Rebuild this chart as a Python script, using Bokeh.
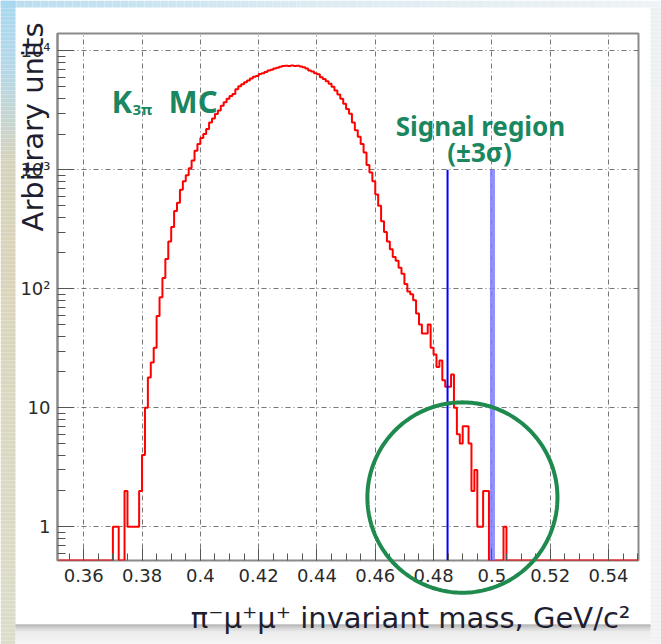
import numpy as np
from bokeh.plotting import figure
from bokeh.models import Range1d, FixedTicker, Label, GridBox, LogScale
from bokeh.embed import file_html
from bokeh.resources import INLINE

# K3pi Monte Carlo reconstructed as pi- mu+ mu+ : entries per 1 MeV bin, first bin starts at 0.370 GeV
hist_start = 0.350
hist_bins = 200
bin_width = 0.001
first_filled_edge = 0.370
counts = [
    1, 1, 0, 0, 2, 1, 1, 1, 1, 2,                                   # 0.370
    4, 10, 18, 24, 32, 59, 85, 123, 178, 250,                       # 0.380
    330, 450, 530, 680, 800, 900, 1030, 1200, 1450, 1650,           # 0.390
    1850, 2000, 2200, 2500, 2700, 2950, 3150, 3450, 3700, 3950,     # 0.400
    4180, 4350, 4750, 5050, 5250, 5450, 5650, 5850, 6050, 6150,     # 0.410
    6400, 6500, 6650, 6850, 6950, 7100, 7200, 7350, 7450, 7500,     # 0.420
    7480, 7520, 7450, 7500, 7400, 7300, 7100, 6850, 6700, 6500,     # 0.430
    6350, 6000, 5800, 5550, 5300, 5000, 4650, 4300, 3950, 3600,     # 0.440
    3250, 2960, 2500, 2150, 1900, 1650, 1400, 1100, 950, 800,       # 0.450
    620, 500, 370, 300, 250, 215, 185, 172, 150, 134,               # 0.460
    110, 95, 90, 80, 62, 50, 42, 42, 50, 32,                        # 0.470
    28, 22, 25, 17, 15, 15, 19, 10, 6, 5,                           # 0.480
    7, 7, 5, 2, 3, 1, 1, 2, 2, 0,                                   # 0.490
    0, 0, 0, 0, 1,                                                  # 0.500
]

x_tick_values = [0.36, 0.38, 0.40, 0.42, 0.44, 0.46, 0.48, 0.50, 0.52, 0.54]
x_tick_labels = ["0.36", "0.38", "0.4", "0.42", "0.44", "0.46", "0.48", "0.5", "0.52", "0.54"]
y_tick_values = [1, 10, 100, 1000, 10000]
y_tick_labels = ["1", "10", "10²", "10³", "10⁴"]

x_title = "π⁻μ⁺μ⁺ invariant mass, GeV/c²"
y_title = "Arbitrary units"

# +-3 sigma signal window and the height of its markers
signal_edges = [0.4848, 0.5002]
signal_marker_top = 1000

# highlighted area around the signal window: centre, half-width in GeV, half-height in decades
ring_centre = (0.4899, 1.76)
ring_half_width = 0.0326
ring_half_decades = 0.80

x_lo, x_hi = 0.351, 0.5503
y_lo, y_hi = 0.52, 14000

# page and frame geometry (pixels)
PAGE_W, PAGE_H = 661, 644
FRAME_L, FRAME_T, FRAME_W, FRAME_H = 57, 33, 581, 527

GREEN_TEXT = "#1b8760"
GREEN_RING = "#1f8a4e"
AXIS_GREY = "#8a8a8a"
TEXT_DARK = "#1e1e30"

p = figure(
    width=PAGE_W, height=PAGE_H,
    x_range=Range1d(x_lo, x_hi), y_range=Range1d(y_lo, y_hi),
    y_axis_type="log",
    output_backend="svg", toolbar_location=None,
    min_border_left=FRAME_L, min_border_right=PAGE_W - FRAME_L - FRAME_W,
    min_border_top=FRAME_T, min_border_bottom=PAGE_H - FRAME_T - FRAME_H,
    background_fill_color="white", border_fill_color="white",
    outline_line_color=AXIS_GREY, outline_line_width=2,
    frame_align=False,
)

# axes in the ROOT style: ticks pointing into the frame
p.xaxis.ticker = FixedTicker(ticks=x_tick_values,
                             minor_ticks=list(np.round(np.arange(0.350, 0.5501, 0.005), 3)))
p.xaxis.major_label_overrides = dict(zip(x_tick_values, x_tick_labels))
minor_y = [k * 10.0 ** d for d in range(-1, 5) for k in range(2, 10)]
p.yaxis.ticker = FixedTicker(ticks=y_tick_values, minor_ticks=minor_y)
p.yaxis.major_label_overrides = dict(zip(y_tick_values, y_tick_labels))

for ax in (p.xaxis, p.yaxis):
    ax.axis_line_color = AXIS_GREY
    ax.axis_line_width = 2
    ax.major_tick_line_color = "#555555"
    ax.minor_tick_line_color = "#555555"
    ax.major_tick_out = 0
    ax.minor_tick_out = 0
    ax.major_label_text_font = "DejaVu Sans"
    ax.major_label_text_font_size = "18px"
    ax.major_label_text_color = "#2a2a2a"
# the frame outline already closes the bottom edge; empty bins are drawn along it
p.xaxis.axis_line_color = None
p.xaxis.major_tick_in = 12
p.xaxis.minor_tick_in = 7
p.yaxis.major_tick_in = 16
p.yaxis.minor_tick_in = 8
p.xaxis.major_label_standoff = 8
p.yaxis.major_label_standoff = 7

for g in (p.xgrid, p.ygrid):
    g.grid_line_color = "#555555"
    g.grid_line_alpha = 0.8
    g.grid_line_width = 1
    g.grid_line_dash = "5 3 1 3"

# histogram outline; empty bins sit on the bottom edge as ROOT draws them on a log axis
edges = hist_start + bin_width * np.arange(hist_bins + 1)
values = np.zeros(hist_bins)
i0 = int(round((first_filled_edge - hist_start) / bin_width))
values[i0:i0 + len(counts)] = counts
shown = np.where(values > 0, values, y_lo)
p.step(x=edges, y=np.append(shown, shown[-1]), mode="after", line_color="#ff0000", line_width=2)

# signal window markers
p.segment(x0=[signal_edges[0]], y0=[y_lo], x1=[signal_edges[0]], y1=[signal_marker_top],
          line_color="#0000ff", line_width=2)
p.segment(x0=[signal_edges[1]], y0=[y_lo], x1=[signal_edges[1]], y1=[signal_marker_top],
          line_color="#7c7cff", line_width=5, line_alpha=0.85)


def note(fig, text, x, y, size, color, align="left", angle=0.0, style="normal", font="DejaVu Sans"):
    fig.add_layout(Label(x=x, y=y, x_units="canvas", y_units="canvas", text=text,
                         text_font=font, text_font_size=f"{size}px", text_font_style=style,
                         text_color=color, text_align=align, text_baseline="alphabetic", angle=angle))


note(p, "K", 111, 100, 31, GREEN_TEXT, style="bold", font="Noto Sans")
note(p, "3π", 132, 108, 15, GREEN_TEXT, style="bold", font="Noto Sans")
note(p, "MC", 168, 100, 31, GREEN_TEXT, style="bold", font="Noto Sans")
note(p, "Signal region", 480, 125, 26, GREEN_TEXT, align="center", style="bold", font="Noto Sans")
note(p, "(±3σ)", 479, 151, 26, GREEN_TEXT, align="center", style="bold", font="Noto Sans")

# transparent layer over the whole page: slide backdrop, axis titles and the ring,
# none of which is confined to the plotting frame
ov = figure(
    width=PAGE_W, height=PAGE_H,
    x_range=Range1d(0, PAGE_W), y_range=Range1d(PAGE_H, 0),
    output_backend="svg", toolbar_location=None,
    x_axis_location=None, y_axis_location=None, min_border=0,
    background_fill_alpha=0, border_fill_alpha=0, outline_line_color=None,
    frame_align=False,
)
ov.grid.visible = False


def blend(c0, c1, f):
    a = [int(c0[i:i + 2], 16) for i in (1, 3, 5)]
    b = [int(c1[i:i + 2], 16) for i in (1, 3, 5)]
    return "#%02x%02x%02x" % tuple(round(u + (v - u) * f) for u, v in zip(a, b))


def vertical_gradient(x0, x1, stops, step=4):
    lefts, rights, tops, bottoms, colours = [], [], [], [], []
    for (ya, ca), (yb, cb) in zip(stops[:-1], stops[1:]):
        for y in range(ya, yb, step):
            lefts.append(x0); rights.append(x1)
            tops.append(y); bottoms.append(min(y + step, yb))
            colours.append(blend(ca, cb, (y - ya) / (yb - ya)))
    ov.quad(left=lefts, right=rights, top=tops, bottom=bottoms, fill_color=colours, line_color=None)


def horizontal_gradient(y0, y1, stops, step=8):
    lefts, rights, tops, bottoms, colours = [], [], [], [], []
    for (xa, ca), (xb, cb) in zip(stops[:-1], stops[1:]):
        for x in range(xa, xb, step):
            lefts.append(x); rights.append(min(x + step, xb))
            tops.append(y0); bottoms.append(y1)
            colours.append(blend(ca, cb, (x - xa) / (xb - xa)))
    ov.quad(left=lefts, right=rights, top=tops, bottom=bottoms, fill_color=colours, line_color=None)


horizontal_gradient(0, 7, [(0, "#b9def0"), (300, "#dcebf2"), (661, "#eef3f5")])
vertical_gradient(0, 15, [(0, "#a8d8f0"), (70, "#b6d8e6"), (160, "#d6d2bc"),
                          (260, "#dad4ba"), (644, "#dcdccb")])
vertical_gradient(650, 661, [(7, "#eef1f2"), (644, "#f2f2f2")])
vertical_gradient(15, 650, [(624, "#9a9a9a"), (627, "#c2c2c2"), (631, "#e6e6e6"), (644, "#f4f4f4")], step=1)

# data ranges of the plot extended to the full page, so the ring lines up with the axes
span_x = x_hi - x_lo
dec = np.log10(y_hi) - np.log10(y_lo)
ov.extra_x_ranges = {"mass": Range1d(x_lo - FRAME_L / FRAME_W * span_x,
                                     x_hi + (PAGE_W - FRAME_L - FRAME_W) / FRAME_W * span_x)}
ov.extra_y_ranges = {"entries": Range1d(10 ** (np.log10(y_lo) - (PAGE_H - FRAME_T - FRAME_H) / FRAME_H * dec),
                                        10 ** (np.log10(y_hi) + FRAME_T / FRAME_H * dec))}
ov.extra_y_scales = {"entries": LogScale()}

t = np.linspace(0, 2 * np.pi, 241)
ring_xs = ring_centre[0] + ring_half_width * np.cos(t)
ring_ys = 10 ** (np.log10(ring_centre[1]) + ring_half_decades * np.sin(t))
ov.line(ring_xs, ring_ys, x_range_name="mass", y_range_name="entries",
        line_color=GREEN_RING, line_width=4)

note(ov, y_title, 32, 22, 29, TEXT_DARK, align="right", angle=np.pi / 2)
note(ov, x_title, 630, 617, 29, TEXT_DARK, align="right")

page = GridBox(children=[(p, 0, 0), (ov, 0, 0)])

open("out.html", "w").write(file_html(page, INLINE))
